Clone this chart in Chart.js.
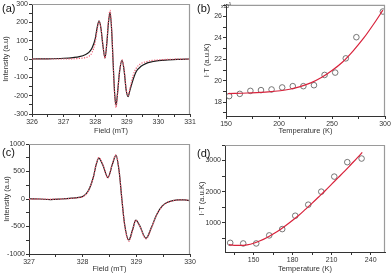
<!DOCTYPE html>
<html>
<head>
<meta charset="utf-8">
<script src="https://cdn.jsdelivr.net/npm/chart.js@4"></script>
<style>
  body { margin:0; background:#fff; width:392px; height:276px; position:relative; overflow:hidden; font-family:"Liberation Sans", Arial, sans-serif; }
  canvas { position:absolute; }
  .lab { position:absolute; font-size:11px; color:#111; }
  .exp { position:absolute; font-size:5px; color:#333; }
</style>
</head>
<body>
<canvas id="ca" width="196" height="138" style="left:0;top:0"></canvas>
<canvas id="cb" width="196" height="138" style="left:196px;top:0"></canvas>
<canvas id="cc" width="196" height="138" style="left:0;top:138px"></canvas>
<canvas id="cd" width="196" height="138" style="left:196px;top:138px"></canvas>
<div class="lab" style="left:2px;top:2px">(a)</div>
<div class="lab" style="left:197px;top:2px">(b)</div>
<div class="lab" style="left:2px;top:146px">(c)</div>
<div class="lab" style="left:197px;top:147px">(d)</div>
<div class="exp" style="left:221px;top:1px">x10<sup style="font-size:4px">5</sup></div>
<script>
// (a) EPR spectrum, experiment (black) and simulation (red dots)
const fieldA = [326.0,326.5,327.0,327.3,327.5,327.7,327.8,327.9,328.0,328.05,328.12,328.18,328.24,328.31,328.37,328.42,328.47,328.52,328.57,328.62,328.66,328.71,328.77,328.85,328.92,328.98,329.04,329.1,329.2,329.3,329.45,329.6,329.8,330.0,330.3,330.6,331.0];
const expA = [0,1,4,8,13,25,36,60,110,160,208,170,80,5,90,200,255,160,-30,-200,-252,-180,-70,-8,-70,-170,-205,-170,-112,-68,-40,-25,-15,-9,-5,-2,0];
const simA = [0,0,0,1,3,8,15,35,90,145,205,170,80,5,95,210,265,165,-30,-210,-265,-185,-70,-5,-65,-165,-200,-160,-90,-50,-25,-15,-8,-5,-2,-1,0];

// (b) I*T vs temperature (x10^5)
const tempB = [153,163,173,183,193,203,213,223,233,243,253,263,273,298];
const itB = [18.56,18.77,19.05,19.12,19.18,19.37,19.49,19.49,19.58,20.54,20.76,22.09,24.07,26.47];
const fitTB = [152,170,190,210,220,230,240,250,260,270,280,290,298];
const fitB = [18.8,18.85,18.95,19.2,19.45,19.8,20.3,20.95,21.75,22.8,24.0,25.4,26.6];

// (c) EPR spectrum, second sample
const fieldC = [327.0,327.2,327.4,327.6,327.8,327.9,328.0,328.1,328.2,328.25,328.3,328.38,328.47,328.55,328.62,328.68,328.73,328.78,328.86,328.93,328.99,329.06,329.18,329.28,329.38,329.48,329.58,329.68,329.78,329.9,330.0];
const expC = [5,0,-10,0,15,25,45,140,400,620,745,610,390,620,795,500,0,-450,-745,-560,-385,-480,-715,-520,-280,-130,-60,-30,-15,-15,-30];
const simC = [0,0,-5,0,12,22,40,135,400,625,750,615,385,625,800,505,0,-460,-770,-570,-385,-485,-725,-530,-285,-135,-62,-32,-18,-16,-28];

// (d) I*T vs temperature, second sample
const tempD = [132,142,152,162,172,182,192,202,212,222,233];
const itD = [355,335,335,594,797,1226,1581,2000,2484,2948,3065];
const fitTD = [131,135,140,145,150,155,160,165,170,175,180,185,190,195,200,205,210,215,220,225,230,233.5];
const fitD = [300,275,270,290,340,420,520,640,770,920,1080,1250,1440,1630,1830,2030,2240,2450,2660,2880,3100,3260];

const pts = (xs, ys) => xs.map((x, i) => ({x: x, y: ys[i]}));

const frame = {
  id: 'frame',
  afterDraw(chart) {
    const {ctx, chartArea: a} = chart;
    ctx.save();
    ctx.strokeStyle = '#9a9a9a';
    ctx.lineWidth = 1.2;
    ctx.beginPath();
    ctx.moveTo(a.left, a.top + 0.5);
    ctx.lineTo(a.right - 0.5, a.top + 0.5);
    ctx.lineTo(a.right - 0.5, a.bottom);
    ctx.stroke();
    ctx.restore();
  }
};

function axis(opt) {
  const isX = opt.pos === 'bottom';
  return {
    type: 'linear',
    position: opt.pos,
    min: opt.min,
    max: opt.max,
    afterBuildTicks: s => { s.ticks = opt.ticks.map(v => ({value: v})); },
    afterFit: s => {
      if (isX) { s.height = opt.size; s.paddingLeft = 0; s.paddingRight = 0; }
      else { s.width = opt.size; s.paddingTop = 0; s.paddingBottom = 0; }
    },
    border: {color: '#333', width: 1},
    grid: {drawOnChartArea: false, drawTicks: true, tickLength: 3, color: '#333'},
    ticks: {
      autoSkip: false, maxRotation: 0, padding: 1, color: '#333',
      font: {family: 'Liberation Sans', size: 7},
      callback: v => opt.major.includes(v) ? String(v) : ''
    },
    title: {
      display: true, text: opt.title, color: '#333',
      font: {family: 'Liberation Sans', size: 7.5},
      padding: isX ? {top: 0, bottom: opt.tpad} : {top: opt.tpad, bottom: 0}
    }
  };
}

function makeChart(id, datasets, xo, yo, pad) {
  new Chart(document.getElementById(id), {
    type: 'line',
    data: {datasets: datasets},
    options: {
      responsive: false,
      animation: false,
      devicePixelRatio: 1,
      layout: {padding: pad},
      plugins: {legend: {display: false}, tooltip: {enabled: false}},
      scales: {x: axis(xo), y: axis(yo)}
    },
    plugins: [frame]
  });
}

const spec = (data, color, dash, w) => ({
  data: data, borderColor: color, borderWidth: w, borderDash: dash,
  pointRadius: 0, tension: 0.4, cubicInterpolationMode: 'monotone', fill: false
});
const dots = data => ({
  data: data, showLine: false, pointRadius: 2.8, pointBorderWidth: 0.8,
  pointBorderColor: '#555', pointBackgroundColor: 'rgba(0,0,0,0)'
});

makeChart('ca',
  [spec(pts(fieldA, simA), '#ee5a70', [1.2, 1.4], 1.2), spec(pts(fieldA, expA), '#1a1a1a', [], 1.2)],
  {pos: 'bottom', min: 326, max: 331, size: 24, tpad: 3, title: 'Field (mT)',
   ticks: [326,326.5,327,327.5,328,328.5,329,329.5,330,330.5,331], major: [326,327,328,329,330,331]},
  {pos: 'left', min: -300, max: 300, size: 32, tpad: 1, title: 'Intensity (a.u)',
   ticks: [-300,-250,-200,-150,-100,-50,0,50,100,150,200,250,300], major: [-300,-200,-100,0,100,200,300]},
  {top: 4, right: 6, left: 0, bottom: 0});

makeChart('cb',
  [spec(pts(fitTB, fitB), '#d8233c', [], 1.2), dots(pts(tempB, itB))],
  {pos: 'bottom', min: 150, max: 300, size: 22, tpad: 3, title: 'Temperature (K)',
   ticks: [150,175,200,225,250,275,300], major: [150,200,250,300]},
  {pos: 'left', min: 16.7, max: 27.1, size: 30, tpad: 6, title: 'I·T (a.u.K)',
   ticks: [17,18,19,20,21,22,23,24,25,26,27], major: [18,20,22,24,26]},
  {top: 4, right: 7, left: 0, bottom: 0});

makeChart('cc',
  [spec(pts(fieldC, simC), '#ee5a70', [1.2, 1.4], 1.3), spec(pts(fieldC, expC), '#1a1a1a', [], 1.2)],
  {pos: 'bottom', min: 327, max: 330, size: 22, tpad: 3, title: 'Field (mT)',
   ticks: [327,327.5,328,328.5,329,329.5,330], major: [327,328,329,330]},
  {pos: 'left', min: -1000, max: 1000, size: 29, tpad: 2, title: 'Intensity (a.u)',
   ticks: [-1000,-750,-500,-250,0,250,500,750,1000], major: [-1000,-500,0,500,1000]},
  {top: 6, right: 6, left: 0, bottom: 0});

makeChart('cd',
  [spec(pts(fitTD, fitD), '#d8233c', [], 1.2), dots(pts(tempD, itD))],
  {pos: 'bottom', min: 128, max: 251, size: 24, tpad: 3, title: 'Temperature (K)',
   ticks: [135,150,165,180,195,210,225,240], major: [150,180,210,240]},
  {pos: 'left', min: 60, max: 3500, size: 29, tpad: 1, title: 'I·T (a.u.K)',
   ticks: [500,1000,1500,2000,2500,3000,3500], major: [1000,2000,3000]},
  {top: 7, right: 7, left: 0, bottom: 0});
</script>
</body>
</html>
